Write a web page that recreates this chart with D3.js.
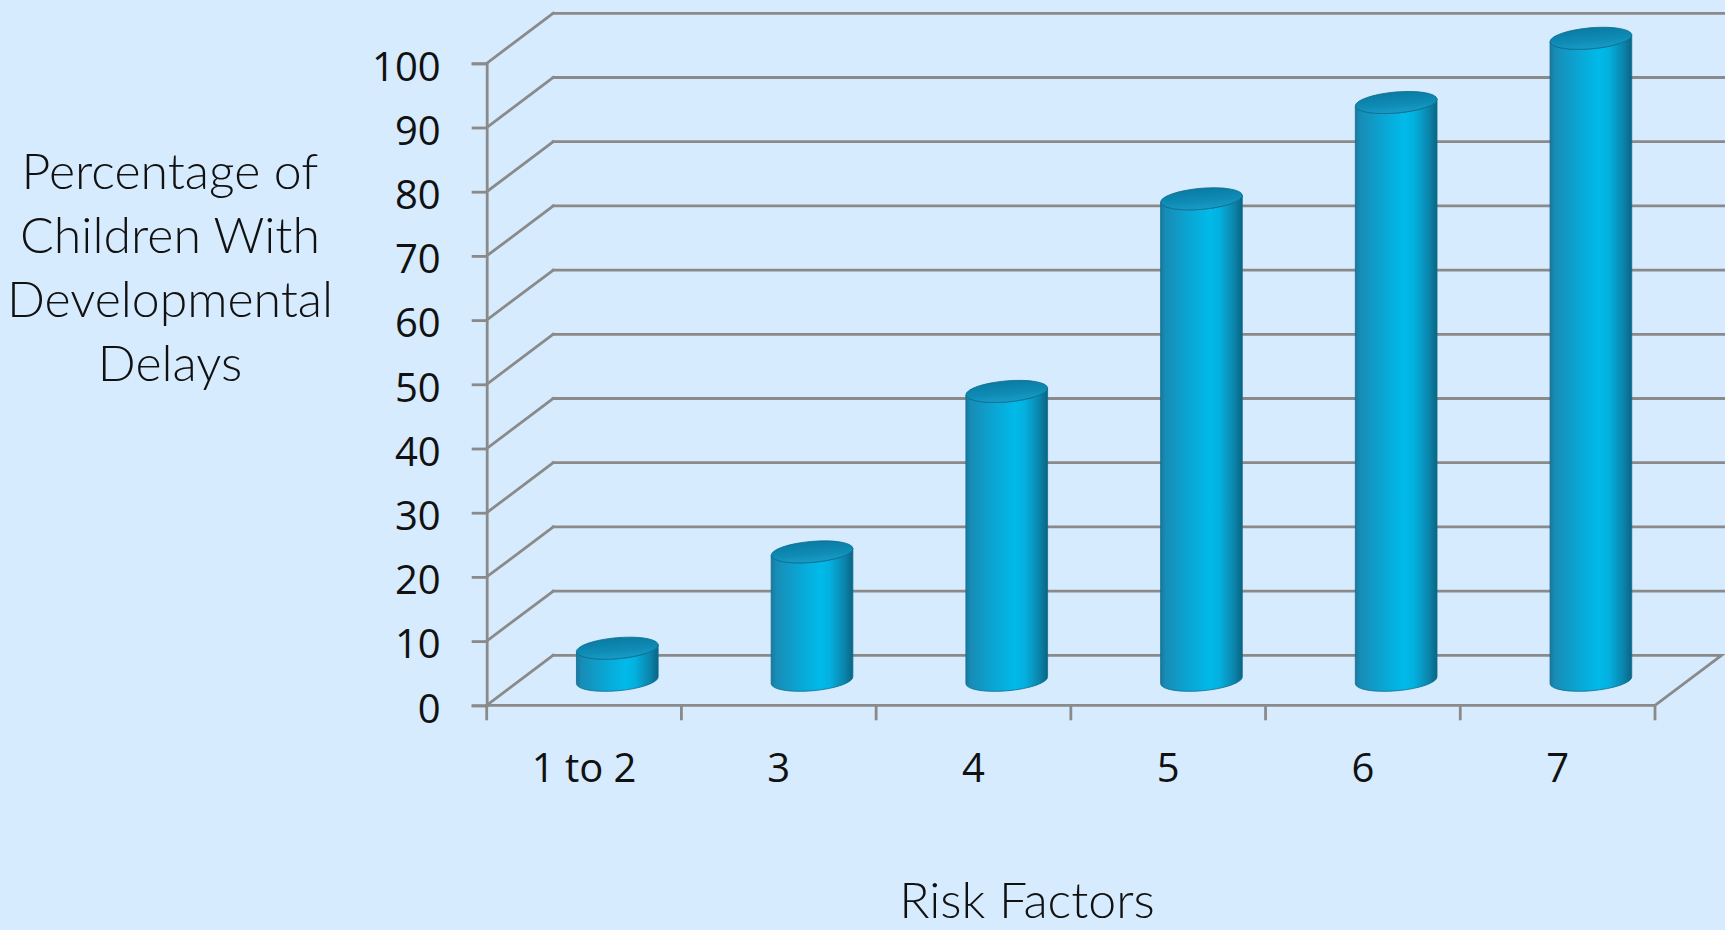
<!DOCTYPE html>
<html>
<head>
<meta charset="utf-8">
<script src="https://cdn.jsdelivr.net/npm/d3@7"></script>
<style>
  html, body { margin: 0; padding: 0; background: #d6ebfd; }
  svg { display: block; }
</style>
</head>
<body>
<svg id="chart" width="1725" height="930"></svg>
<script>
// Risk factor groups and share of children with developmental delays (%)
const categories = ["1 to 2", "3", "4", "5", "6", "7"];
const values = [5, 20, 45, 75, 90, 100];
const yTicks = [0, 10, 20, 30, 40, 50, 60, 70, 80, 90, 100];
const yTitleLines = ["Percentage of", "Children With", "Developmental", "Delays"];
const xTitle = "Risk Factors";

const W = 1725, H = 930;
const svg = d3.select("#chart");

// Front plane of the 3-D box and its oblique depth offset
const plot = { left: 486.7, right: 1655, top: 63.3, bottom: 705.3 };
const depth = { dx: 66.5, dy: -50 };

const x = d3.scaleBand().domain(categories).range([plot.left, plot.right]).padding(0);
const y = d3.scaleLinear().domain([0, 100]).range([plot.bottom, plot.top]);

const gridColor = "#8a8a8a";
const gridW = 2.8;

// Gradients for the cylinders
const defs = svg.append("defs");
const body = defs.append("linearGradient").attr("id", "cylBody")
  .attr("x1", "0%").attr("x2", "100%").attr("y1", "0%").attr("y2", "0%");
[["0%", "#1a78a0"], ["6%", "#178db6"], ["35%", "#0aa6d4"], ["60%", "#00baea"],
 ["72%", "#04b0df"], ["90%", "#0b84ab"], ["100%", "#0a6584"]]
  .forEach(([o, c]) => body.append("stop").attr("offset", o).attr("stop-color", c));
const cap = defs.append("linearGradient").attr("id", "cylTop")
  .attr("x1", "0%").attr("x2", "0%").attr("y1", "0%").attr("y2", "100%");
[["0%", "#0a7ba3"], ["60%", "#0e8cb6"], ["100%", "#1a9cc6"]]
  .forEach(([o, c]) => cap.append("stop").attr("offset", o).attr("stop-color", c));

// Back wall gridlines and the diagonals joining them to the value axis
const grid = svg.append("g").attr("stroke", gridColor).attr("stroke-width", gridW)
  .attr("fill", "none").attr("stroke-linecap", "square");
yTicks.forEach(t => {
  const yy = y(t);
  grid.append("line")
    .attr("x1", plot.left).attr("y1", yy)
    .attr("x2", plot.left + depth.dx).attr("y2", yy + depth.dy);
  if (t > 0) {
    grid.append("line")
      .attr("x1", plot.left + depth.dx).attr("y1", yy + depth.dy)
      .attr("x2", W).attr("y2", yy + depth.dy);
  }
});
// Floor
const floorBackY = y(0) + depth.dy;
grid.append("path").attr("d",
  `M${plot.left},${y(0)} L${plot.right},${y(0)} L${plot.right + depth.dx},${floorBackY} L${plot.left + depth.dx},${floorBackY}`);

// Value axis
const yAxis = d3.axisLeft(y).tickValues(yTicks).tickSize(15).tickPadding(31);
const yg = svg.append("g").attr("transform", `translate(${plot.left},0)`).call(yAxis);
yg.select(".domain").attr("stroke", gridColor).attr("stroke-width", gridW);
yg.selectAll(".tick line").attr("stroke", gridColor).attr("stroke-width", gridW);
yg.selectAll(".tick text")
  .attr("fill", "#111").attr("font-family", "'Open Sans', sans-serif")
  .attr("font-size", 40).attr("dy", "0.42em");

// Category axis: tick marks at band edges, labels at band centres
const bounds = categories.map(c => x(c)).concat([plot.right]);
svg.append("g").selectAll("line").data(bounds).join("line")
  .attr("x1", d => d).attr("x2", d => d)
  .attr("y1", y(0)).attr("y2", y(0) + 15)
  .attr("stroke", gridColor).attr("stroke-width", gridW);
svg.append("g").selectAll("text").data(categories).join("text")
  .attr("x", d => x(d) + x.bandwidth() / 2)
  .attr("y", 782)
  .attr("text-anchor", "middle")
  .attr("fill", "#111").attr("font-family", "'Open Sans', sans-serif")
  .attr("font-size", 40)
  .text(d => d);

// Cylinders, standing half-way into the depth
const rx = 41, ry = 10.5, rot = -5;
const rad = rot * Math.PI / 180;
const ex = rx * Math.cos(rad), ey = rx * Math.sin(rad);
const bars = svg.append("g");
categories.forEach((c, i) => {
  const cx = x(c) + x.bandwidth() / 2 + depth.dx / 2;
  const yb = y(0) + depth.dy / 2;
  const yt = y(values[i]) + depth.dy / 2;
  const g = bars.append("g");
  g.append("path")
    .attr("d",
      `M${cx - ex},${yt - ey} L${cx - ex},${yb - ey} ` +
      `A${rx},${ry} ${rot} 0 0 ${cx + ex},${yb + ey} ` +
      `L${cx + ex},${yt + ey} ` +
      `A${rx},${ry} ${rot} 0 1 ${cx - ex},${yt - ey} Z`)
    .attr("fill", "url(#cylBody)")
    .attr("stroke", "#0b6d8f").attr("stroke-width", 0.8);
  g.append("ellipse")
    .attr("cx", 0).attr("cy", 0).attr("rx", rx).attr("ry", ry)
    .attr("transform", `translate(${cx},${yt}) rotate(${rot})`)
    .attr("fill", "url(#cylTop)")
    .attr("stroke", "#0b6d8f").attr("stroke-width", 0.8);
});

// Axis titles
const titleFont = "Lato, 'Open Sans', sans-serif";
svg.append("text")
  .attr("x", 170).attr("y", 189)
  .attr("text-anchor", "middle")
  .attr("font-family", titleFont).attr("font-weight", 300)
  .attr("font-size", 50).attr("fill", "#111")
  .selectAll("tspan").data(yTitleLines).join("tspan")
  .attr("x", 170).attr("dy", (d, i) => i === 0 ? 0 : 64)
  .text(d => d);

svg.append("text")
  .attr("x", 1027).attr("y", 918)
  .attr("text-anchor", "middle")
  .attr("font-family", titleFont).attr("font-weight", 300)
  .attr("font-size", 50).attr("fill", "#111")
  .text(xTitle);
</script>
</body>
</html>
